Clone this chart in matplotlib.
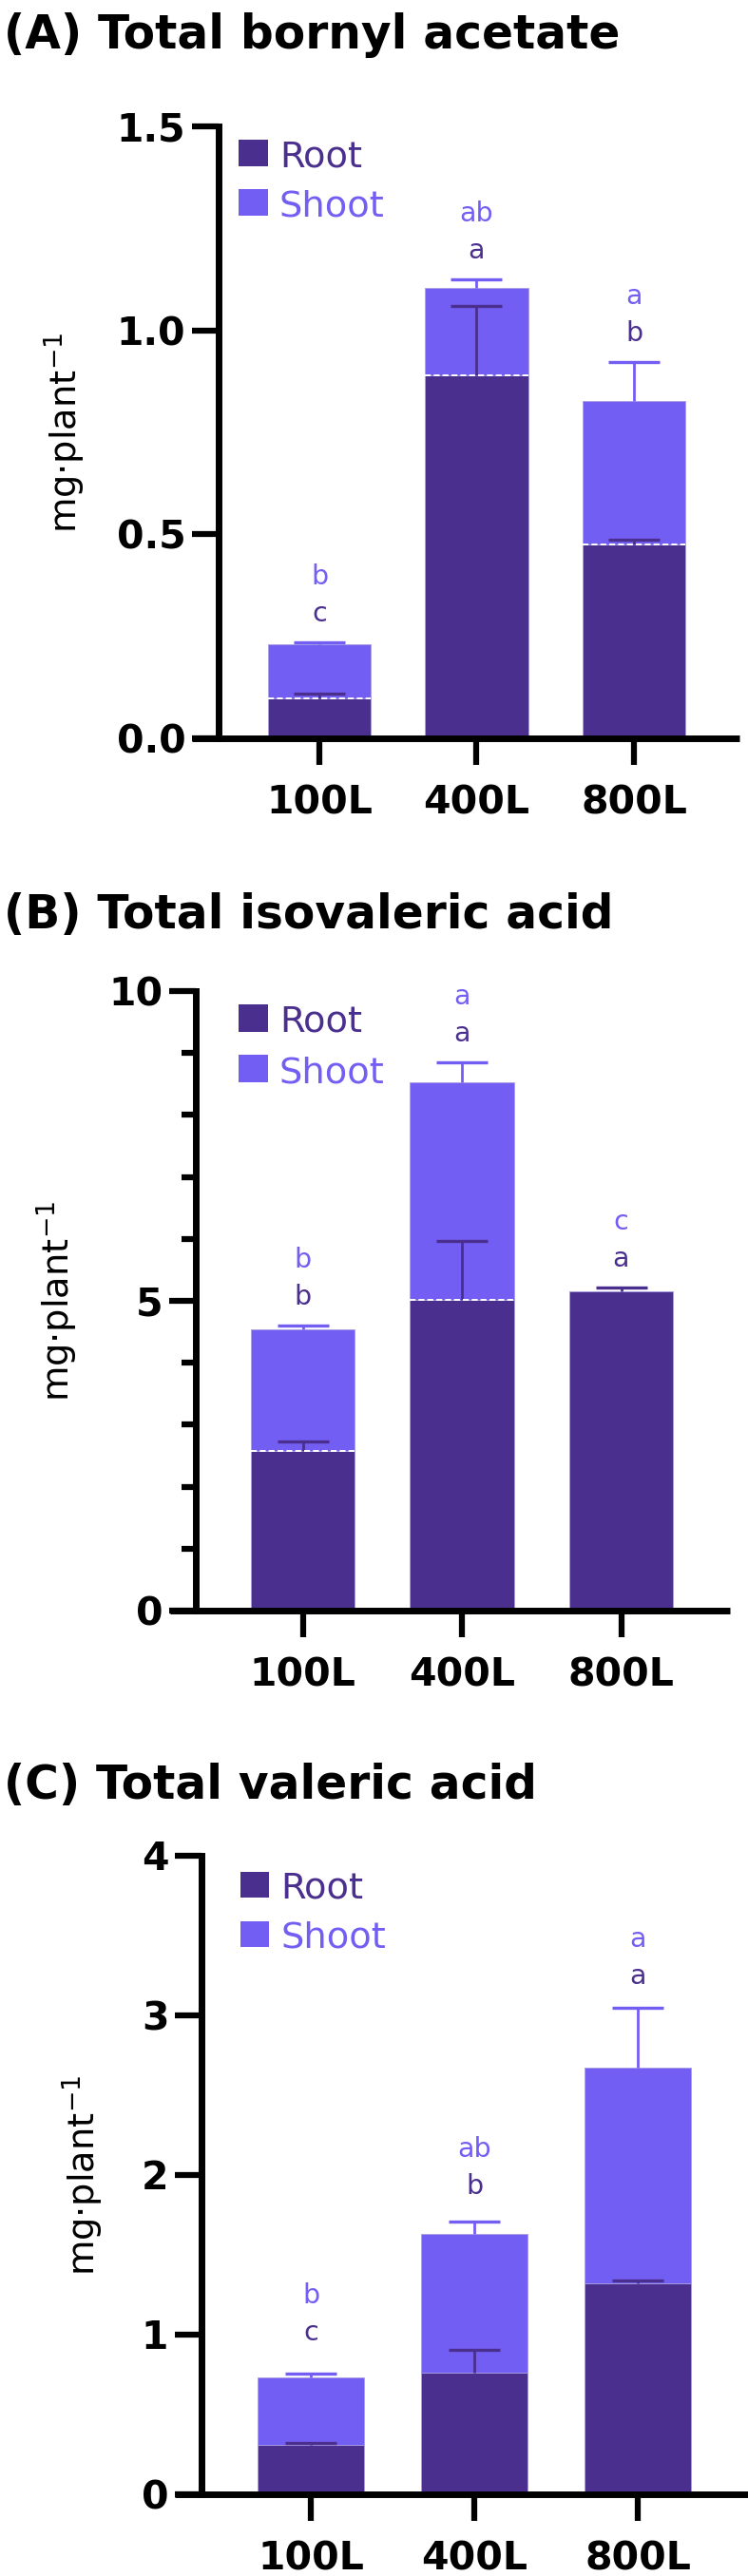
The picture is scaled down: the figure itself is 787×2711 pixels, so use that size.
import matplotlib
matplotlib.use('Agg')
import matplotlib.pyplot as plt
from matplotlib.patches import Rectangle

plt.rcParams['font.family'] = ['DejaVu Sans']

# ---------------- data ----------------
categories = ['100L', '400L', '800L']
series_names = ['Root', 'Shoot']
titles = ['(A) Total bornyl acetate', '(B) Total isovaleric acid', '(C) Total valeric acid']
ylabel_text = 'mg·plant$^{-1}$'

bornyl_root = [0.098, 0.890, 0.474]
bornyl_root_err = [0.011, 0.170, 0.012]
bornyl_shoot = [0.132, 0.215, 0.352]
bornyl_shoot_err = [0.005, 0.020, 0.097]
bornyl_root_letters = ['c', 'a', 'b']
bornyl_shoot_letters = ['b', 'ab', 'a']
bornyl_yticks = [0.0, 0.5, 1.0, 1.5]
bornyl_yticklabels = ['0.0', '0.5', '1.0', '1.5']

iso_root = [2.58, 5.02, 5.15]
iso_root_err = [0.15, 0.95, 0.06]
iso_shoot = [1.96, 3.51, 0.0]
iso_shoot_err = [0.06, 0.32, 0.0]
iso_root_letters = ['b', 'a', 'a']
iso_shoot_letters = ['b', 'a', 'c']
iso_yticks = [0, 5, 10]
iso_yticklabels = ['0', '5', '10']
iso_minor = [1, 2, 3, 4, 6, 7, 8, 9]

val_root = [0.31, 0.76, 1.32]
val_root_err = [0.012, 0.145, 0.02]
val_shoot = [0.42, 0.87, 1.35]
val_shoot_err = [0.026, 0.08, 0.38]
val_root_letters = ['c', 'b', 'a']
val_shoot_letters = ['b', 'ab', 'a']
val_yticks = [0, 1, 2, 3, 4]
val_yticklabels = ['0', '1', '2', '3', '4']

# ---------------- style ----------------
ROOT_C = '#4A2F8E'
SHOOT_C = '#735EF4'
W, H, DPI = 787, 2711, 100

def fx(px):
    return px / W

def fy(py):
    return 1 - py / H

fig = plt.figure(figsize=(W / DPI, H / DPI), dpi=DPI)
fig.patch.set_facecolor('white')

panels = [
    dict(root=bornyl_root, rerr=bornyl_root_err, shoot=bornyl_shoot, serr=bornyl_shoot_err,
         rlet=bornyl_root_letters, slet=bornyl_shoot_letters, yt=bornyl_yticks,
         ytl=bornyl_yticklabels, minor=None, dashed=True,
         box=(202, 778, 133, 777), spine=230, c0=336, sp=165.5,
         title_y=51, ylab=(68, 455), leg=(251, 282, 147, 199, 28), let_extra=[0, 0, 0]),
    dict(root=iso_root, rerr=iso_root_err, shoot=iso_shoot, serr=iso_shoot_err,
         rlet=iso_root_letters, slet=iso_shoot_letters, yt=iso_yticks,
         ytl=iso_yticklabels, minor=iso_minor, dashed=True,
         box=(179, 768, 1043, 1695), spine=206, c0=318.5, sp=167.5,
         title_y=977, ylab=(60, 1369), leg=(251, 282, 1057, 1110, 29), let_extra=[0, 0, 0]),
    dict(root=val_root, rerr=val_root_err, shoot=val_shoot, serr=val_shoot_err,
         rlet=val_root_letters, slet=val_shoot_letters, yt=val_yticks,
         ytl=val_yticklabels, minor=None, dashed=False,
         box=(184, 787, 1953, 2625), spine=212, c0=327, sp=172,
         title_y=1893, ylab=(87, 2289), leg=(253, 283, 1970, 2022, 27), let_extra=[9, 5, 2]),
]

BAR_W = 0.655
TICK_FS = 29.5
LEG_FS = 27.6
LET_FS = 20.5
CAP = 19.5

for k, p in enumerate(panels):
    x0, x1, yt_px, yb_px = p['box']
    ax = fig.add_axes([fx(x0), fy(yb_px), (x1 - x0) / W, (yb_px - yt_px) / H])
    ax.set_facecolor('none')
    xs = list(range(len(categories)))
    ax.set_xlim((x0 - p['c0']) / p['sp'], (x1 - p['c0']) / p['sp'])
    ax.set_ylim(p['yt'][0], p['yt'][-1])

    ax.bar(xs, p['root'], width=BAR_W, color=ROOT_C, edgecolor='#a99fe0',
           linewidth=0.6, zorder=2)
    ax.bar(xs, p['shoot'], width=BAR_W, bottom=p['root'], color=SHOOT_C,
           edgecolor='#a99fe0', linewidth=0.6, zorder=2)

    totals = [r + s for r, s in zip(p['root'], p['shoot'])]
    for i in xs:
        if p['serr'][i] > 0:
            eb = ax.errorbar([i], [totals[i]], yerr=[[0], [p['serr'][i]]], fmt='none',
                             ecolor=SHOOT_C, elinewidth=2.0, capsize=CAP, capthick=2.4,
                             zorder=3)
            eb[1][0].set_visible(False)
        eb = ax.errorbar([i], [p['root'][i]], yerr=[[0], [p['rerr'][i]]], fmt='none',
                         ecolor=ROOT_C, elinewidth=2.0, capsize=CAP, capthick=2.4,
                         zorder=3.5)
        eb[1][0].set_visible(False)
        if p['dashed'] and p['shoot'][i] > 0:
            ax.hlines(p['root'][i], i - BAR_W / 2, i + BAR_W / 2, colors='white',
                      linestyles=(0, (3.2, 1.6)), linewidth=1.4, zorder=5)
        top = max(totals[i] + p['serr'][i], p['root'][i] + p['rerr'][i])
        ex = p['let_extra'][i]
        ax.annotate(p['rlet'][i], xy=(i, top), xytext=(0, 16 + ex), textcoords='offset points',
                    ha='center', va='baseline', fontsize=LET_FS, color=ROOT_C)
        ax.annotate(p['slet'][i], xy=(i, top), xytext=(0, 44 + ex), textcoords='offset points',
                    ha='center', va='baseline', fontsize=LET_FS, color=SHOOT_C)

    for s in ['top', 'right']:
        ax.spines[s].set_visible(False)
    ax.spines['left'].set_position(('data', (p['spine'] - p['c0']) / p['sp']))
    ax.spines['left'].set_linewidth(5)
    ax.spines['bottom'].set_linewidth(5)
    ax.spines['left'].set_capstyle('projecting')
    ax.spines['bottom'].set_capstyle('butt')

    ax.set_xticks(xs, categories, fontsize=TICK_FS, fontweight='bold')
    ax.set_yticks(p['yt'], p['ytl'], fontsize=TICK_FS, fontweight='bold')
    if p['minor']:
        ax.set_yticks(p['minor'], minor=True)
    ax.tick_params(axis='x', which='major', length=20, width=4.5, pad=15, direction='out')
    ax.tick_params(axis='y', which='major', length=20, width=4.5, pad=5, direction='out')
    ax.tick_params(axis='y', which='minor', length=11, width=4.5, direction='out')

    fig.text(fx(4), fy(p['title_y']), titles[k], fontsize=35, fontweight='bold',
             ha='left', va='baseline')
    fig.text(fx(p['ylab'][0]), fy(p['ylab'][1]), ylabel_text, rotation=90,
             ha='center', va='center', fontsize=LEG_FS)
    lx0, lx1, ry, sy, sz = p['leg']
    for name, col, yy in [(series_names[0], ROOT_C, ry), (series_names[1], SHOOT_C, sy)]:
        fig.patches.append(Rectangle((fx(lx0), fy(yy + sz)), (lx1 - lx0) / W, sz / H,
                                     transform=fig.transFigure, facecolor=col,
                                     edgecolor='none'))
        fig.text(fx(lx1 + 12), fy(yy + sz), name, fontsize=LEG_FS, color=col,
                 ha='left', va='baseline')

fig.savefig('out.png', dpi=DPI)
